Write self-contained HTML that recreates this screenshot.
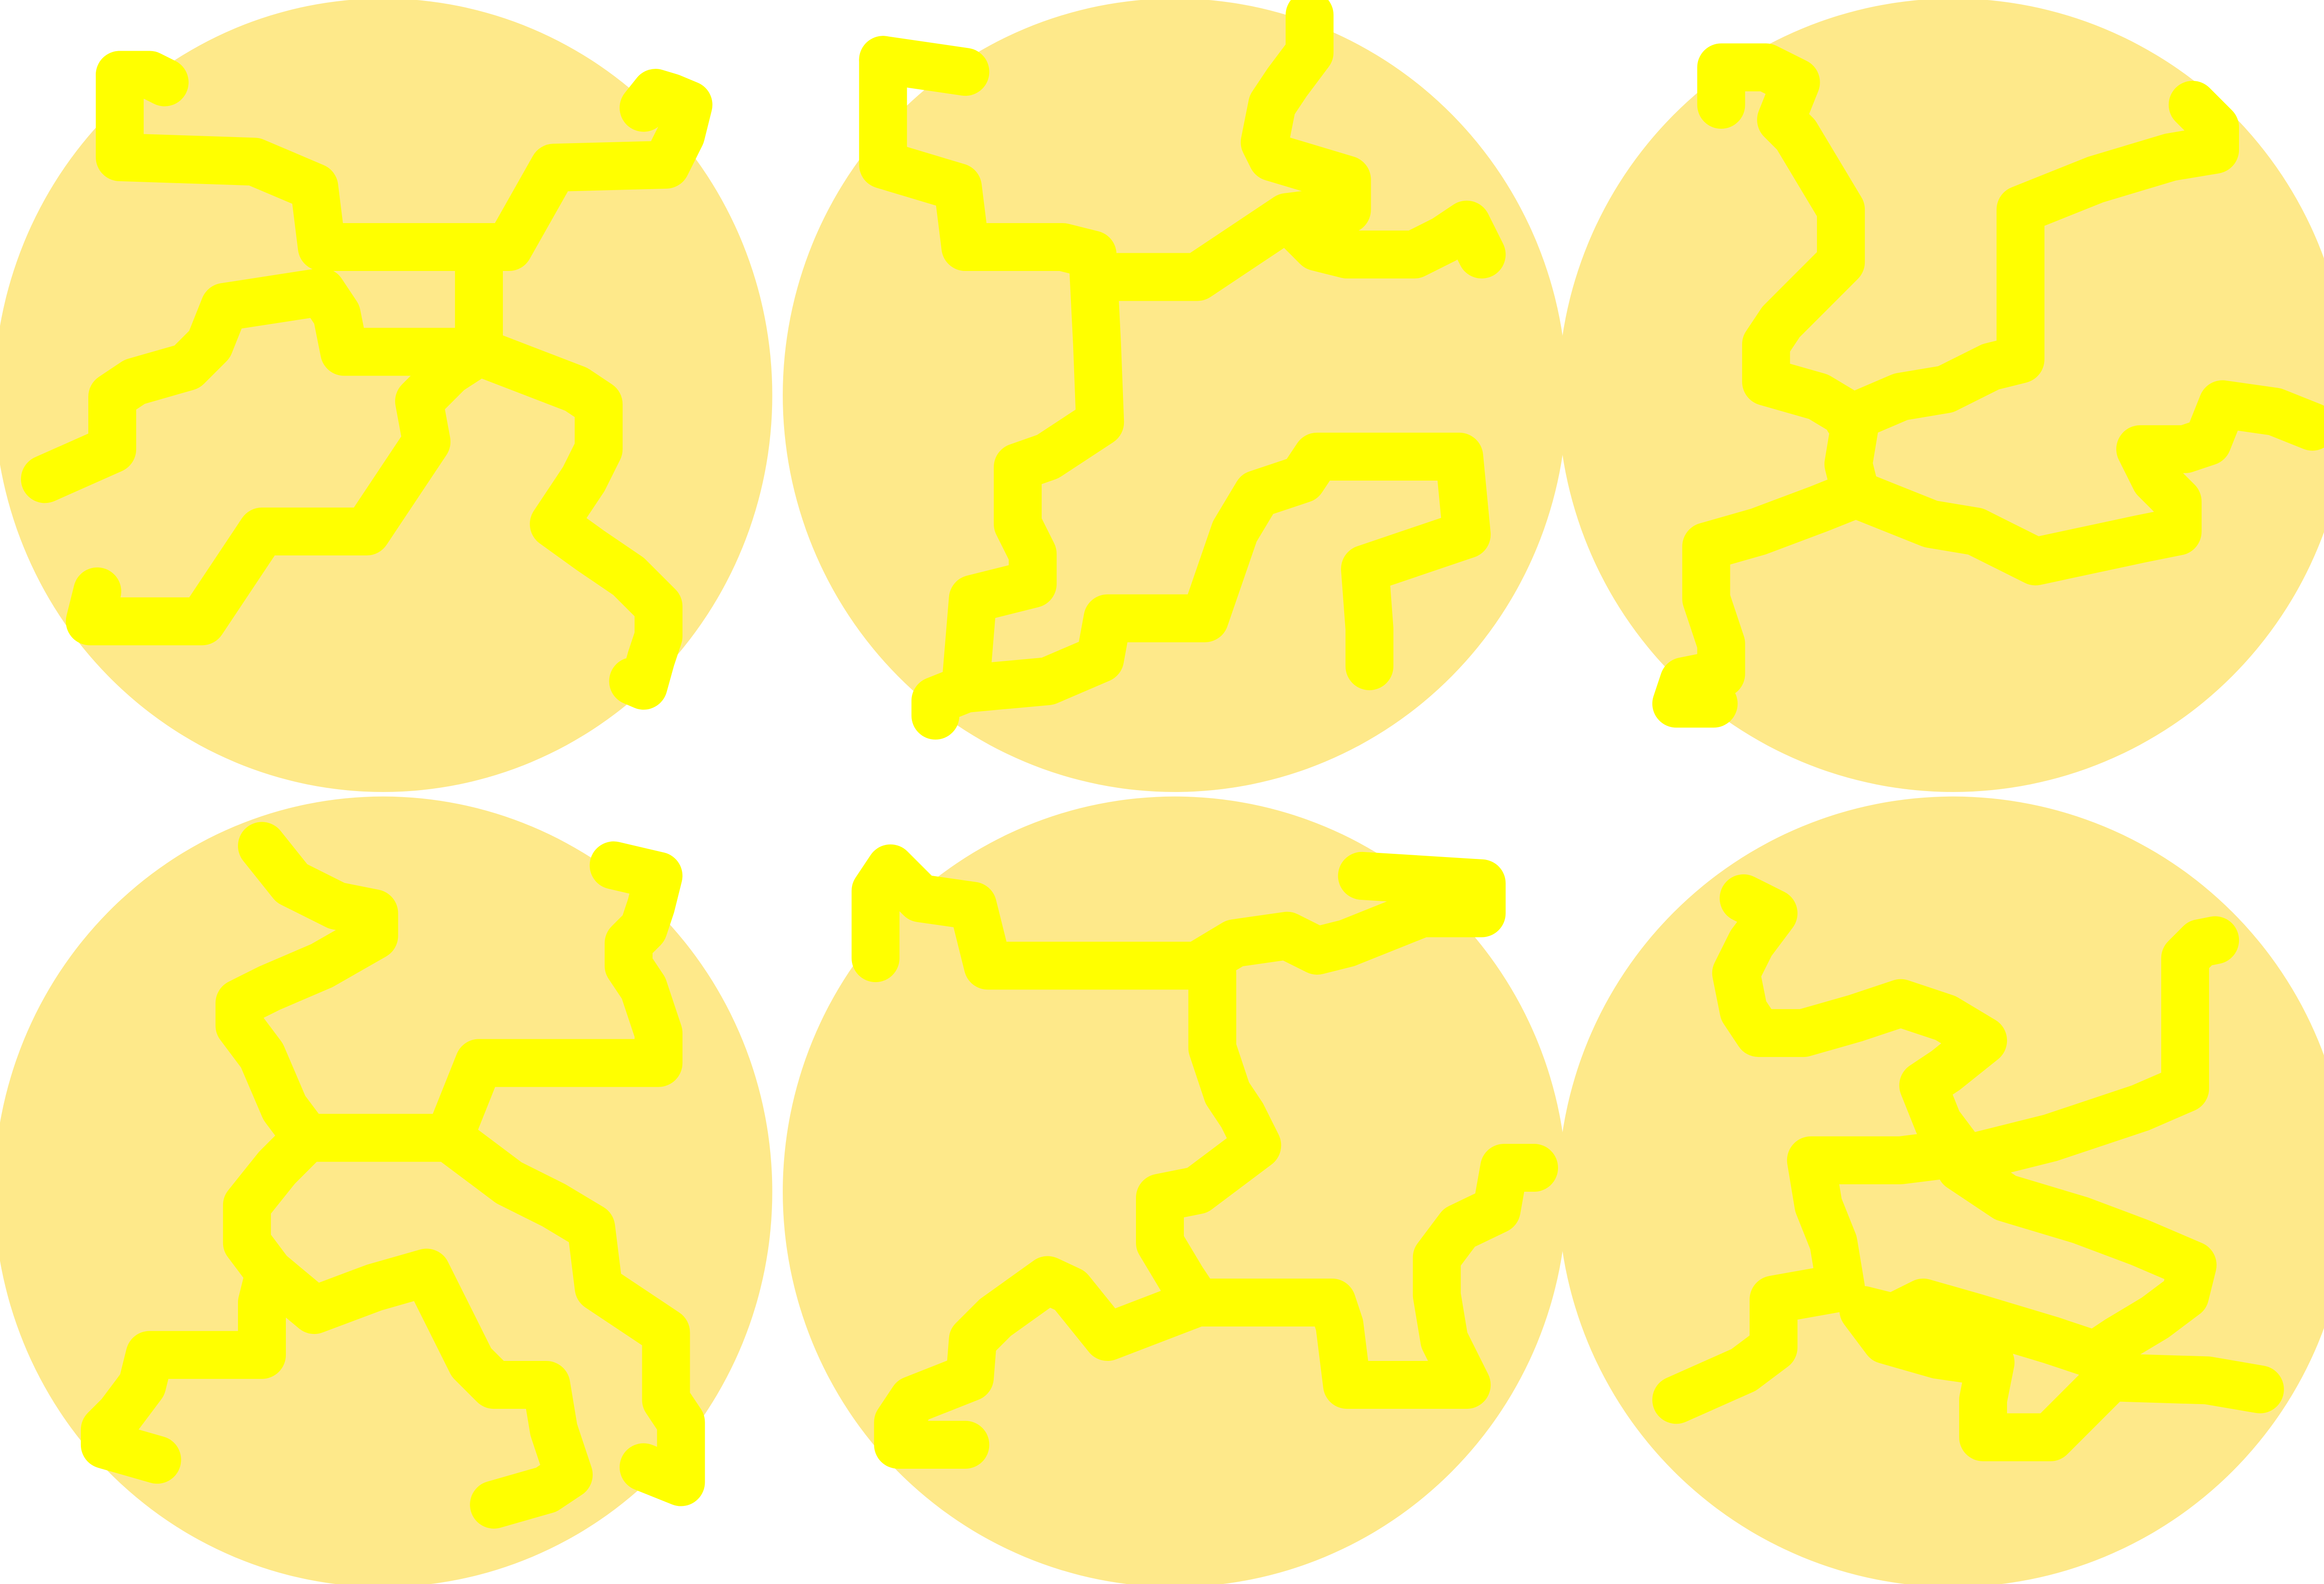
<!DOCTYPE html>
<html><head><meta charset="utf-8"><style>html,body{margin:0;padding:0;background:#fff;width:5049px;height:3408px;overflow:hidden}svg{display:block}</style></head>
<body>
<svg width="5049" height="3408" viewBox="0 0 1568 1058" preserveAspectRatio="none" xmlns="http://www.w3.org/2000/svg">
<g id="blobs" fill="#FEE98A"></g>
<g id="paths" fill="none" stroke="#FFFF00" stroke-width="32" stroke-linejoin="round" stroke-linecap="round"></g>
</svg>
<script>
const centers=[[256,264],[785,264],[1305,264],[256,796],[785,796],[1305,796]];
const radiiX=[260,262,264,260,262,264];
const radiiY=[265,265,265,264,264,264];
const paths=[
[[80,50],[80,105],[170,108],[210,125],[215,165],[340,165],[370,112],[445,110],[455,90],[460,70],[448,65],[438,62],[430,72]],
[[80,50],[100,50],[110,55]],
[[320,165],[320,235],[300,248],[280,268],[285,295],[245,355],[175,355],[135,415],[60,415],[65,395]],
[[320,235],[385,260],[400,270],[400,300],[390,320],[370,350],[395,368],[420,385],[440,405],[440,425],[435,440],[430,458],[423,455]],
[[320,235],[230,235],[225,210],[215,195],[150,205],[140,230],[125,245],[90,255],[75,265],[75,300],[30,320]],
[[590,40],[590,110],[640,125],[645,165],[710,165],[730,170],[733,230],[735,282],[700,305],[680,312],[680,350],[690,370],[690,390],[650,400],[645,460],[625,468],[625,478]],
[[590,40],[645,48]],
[[733,185],[800,185],[860,145],[900,140],[900,120],[850,105],[845,95],[850,70],[860,55],[875,35],[875,10]],
[[860,145],[880,165],[900,170],[945,170],[965,160],[980,150],[990,170]],
[[645,460],[700,455],[735,440],[740,413],[805,413],[825,355],[840,330],[870,320],[880,305],[975,305],[980,357],[912,380],[915,420],[915,445]],
[[1150,70],[1150,45],[1180,45],[1200,55],[1190,80],[1200,90],[1215,115],[1230,140],[1230,175],[1210,195],[1190,215],[1180,230],[1180,255],[1215,265],[1240,280],[1235,310],[1240,330],[1215,340],[1175,355],[1140,365],[1140,400],[1150,430],[1150,450],[1125,455],[1120,470],[1145,470]],
[[1235,280],[1270,265],[1300,260],[1330,245],[1350,240],[1350,140],[1400,120],[1450,105],[1480,100],[1480,85],[1465,70]],
[[1240,330],[1290,350],[1320,355],[1360,375],[1430,360],[1455,355],[1455,335],[1440,320],[1430,300],[1460,300],[1475,295],[1485,270],[1520,275],[1545,285]],
[[175,565],[195,590],[225,605],[250,610],[250,625],[215,645],[180,660],[160,670],[160,685],[175,705],[190,740],[205,760],[300,760],[310,735],[320,710],[440,710],[440,690],[430,660],[420,645],[420,630],[430,620],[435,605],[440,585],[410,578]],
[[205,760],[185,780],[165,805],[165,830],[180,850],[175,870],[175,905],[100,905],[95,925],[80,945],[70,955],[70,965],[105,975]],
[[180,850],[210,875],[250,860],[285,850],[300,880],[315,910],[330,925],[365,925],[370,955],[380,985],[365,995],[330,1005]],
[[300,760],[340,790],[370,805],[395,820],[400,860],[430,880],[445,890],[445,935],[455,950],[455,990],[430,980]],
[[585,640],[585,595],[595,580],[615,600],[650,605],[660,645],[800,645],[825,630],[860,625],[880,635],[900,630],[950,610],[990,610],[990,590],[910,585]],
[[810,650],[810,700],[820,730],[830,745],[840,765],[800,795],[775,800],[775,830],[790,855],[800,870],[740,893],[715,862],[700,855],[665,880],[650,895],[648,920],[610,935],[600,950],[600,965],[645,965]],
[[800,870],[890,870],[895,885],[900,925],[980,925],[965,895],[960,865],[960,840],[975,820],[1000,808],[1005,780],[1025,780]],
[[1165,600],[1185,610],[1170,630],[1160,650],[1165,675],[1175,690],[1205,690],[1240,680],[1270,670],[1300,680],[1325,695],[1300,715],[1285,725],[1295,750],[1310,770],[1270,775],[1210,775],[1215,805],[1225,830],[1230,860],[1185,868],[1185,900],[1165,915],[1120,935]],
[[1310,775],[1370,760],[1430,740],[1460,727],[1460,640],[1470,630],[1480,628]],
[[1310,780],[1340,800],[1390,815],[1430,830],[1465,845],[1460,865],[1440,880],[1415,895],[1400,905],[1370,895],[1320,880],[1285,870],[1265,880],[1245,875],[1260,895],[1295,905],[1330,910],[1325,935],[1325,960],[1345,960],[1370,960],[1390,940],[1410,920],[1475,922],[1510,928]]
];
const NS='http://www.w3.org/2000/svg';
const gb=document.getElementById('blobs'),gp=document.getElementById('paths');
centers.forEach((c,i)=>{const e=document.createElementNS(NS,'ellipse');
e.setAttribute('cx',c[0]);e.setAttribute('cy',c[1]);e.setAttribute('rx',radiiX[i]);e.setAttribute('ry',radiiY[i]);


gb.appendChild(e);});
paths.forEach(p=>{const l=document.createElementNS(NS,'polyline');
l.setAttribute('points',p.map(q=>q.join(',')).join(' '));


gp.appendChild(l);});
</script>
</body></html>
